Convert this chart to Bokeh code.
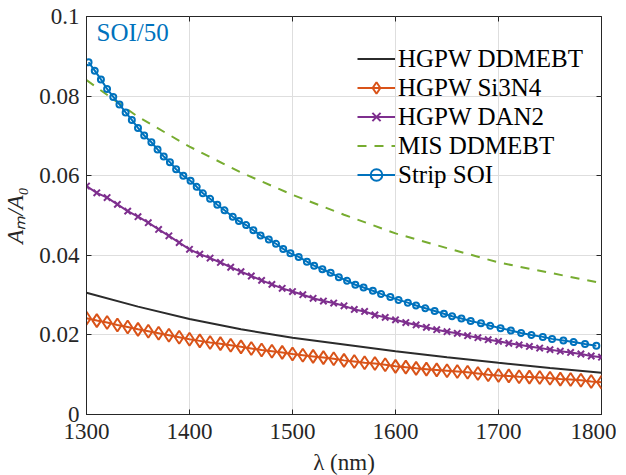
from bokeh.plotting import figure
from bokeh.models import FixedTicker, LinearAxis, Label, Range1d
from bokeh.embed import file_html
from bokeh.resources import INLINE

# ---------------- data ----------------
x_ticks = [1300, 1400, 1500, 1600, 1700, 1800]
x_tick_labels = ["1300", "1400", "1500", "1600", "1700", "1800"]
y_ticks = [0, 0.02, 0.04, 0.06, 0.08, 0.1]
y_tick_labels = ["0", "0.02", "0.04", "0.06", "0.08", "0.1"]

# HGPW DDMEBT (solid line)
wl_ddmebt = [1300, 1350, 1400, 1450, 1500, 1550, 1600, 1650, 1700, 1750, 1800]
hgpw_ddmebt = [0.0306, 0.0271, 0.0240, 0.0214, 0.0193, 0.0176, 0.0159, 0.0144, 0.0130, 0.0117, 0.0105]

# MIS DDMEBT (dashed line)
wl_mis = [1300, 1350, 1400, 1450, 1500, 1550, 1600, 1650, 1700, 1750, 1800]
mis_ddmebt = [0.0840, 0.0748, 0.0673, 0.0608, 0.0552, 0.0502, 0.0455, 0.0418, 0.0382, 0.0356, 0.0330]

# HGPW Si3N4 and HGPW DAN2 (markers every 10 nm)
wl_10 = [1300, 1310, 1320, 1330, 1340, 1350, 1360, 1370, 1380, 1390,
         1400, 1410, 1420, 1430, 1440, 1450, 1460, 1470, 1480, 1490,
         1500, 1510, 1520, 1530, 1540, 1550, 1560, 1570, 1580, 1590,
         1600, 1610, 1620, 1630, 1640, 1650, 1660, 1670, 1680, 1690,
         1700, 1710, 1720, 1730, 1740, 1750, 1760, 1770, 1780, 1790, 1800]
hgpw_si3n4 = [0.0242, 0.0236, 0.0231, 0.0225, 0.0220, 0.0214, 0.0209, 0.0204, 0.0199, 0.0194,
              0.0189, 0.0185, 0.0181, 0.0178, 0.0174, 0.0170, 0.0166, 0.0162, 0.0159, 0.0156,
              0.0152, 0.0149, 0.0146, 0.0143, 0.0140, 0.0136, 0.0133, 0.0130, 0.0128, 0.0125,
              0.0121, 0.0119, 0.0116, 0.0114, 0.0112, 0.0110, 0.0108, 0.0106, 0.0103, 0.0100,
              0.0098, 0.0097, 0.0095, 0.0094, 0.0093, 0.0091, 0.0089, 0.0088, 0.0086, 0.0083, 0.0081]
hgpw_dan2 = [0.0574, 0.0557, 0.0545, 0.0528, 0.0511, 0.0497, 0.0482, 0.0465, 0.0449, 0.0432,
             0.0415, 0.0403, 0.0393, 0.0382, 0.0370, 0.0359, 0.0348, 0.0337, 0.0327, 0.0317,
             0.0309, 0.0301, 0.0292, 0.0285, 0.0280, 0.0273, 0.0264, 0.0259, 0.0250, 0.0244,
             0.0238, 0.0231, 0.0225, 0.0219, 0.0213, 0.0208, 0.0204, 0.0198, 0.0193, 0.0188,
             0.0184, 0.0179, 0.0175, 0.0171, 0.0167, 0.0163, 0.0159, 0.0156, 0.0152, 0.0147, 0.0144]

# Strip SOI (divided by 50), circle markers
wl_soi = [1302, 1308, 1314, 1320, 1326, 1332, 1338, 1344, 1350, 1356,
          1363, 1369, 1375, 1381, 1387, 1394, 1401, 1407, 1413, 1420,
          1427, 1434, 1442, 1448, 1455, 1462, 1469, 1477, 1484, 1491,
          1498, 1506, 1514, 1521, 1529, 1537, 1545, 1553, 1561, 1569,
          1578, 1586, 1595, 1603, 1612, 1620, 1629, 1638, 1647, 1655,
          1664, 1673, 1683, 1692, 1702, 1712, 1722, 1732, 1743, 1752,
          1763, 1773, 1784, 1795]
strip_soi = [0.0885, 0.0864, 0.0842, 0.0818, 0.0798, 0.0779, 0.0759, 0.0740, 0.0720, 0.0701,
             0.0684, 0.0666, 0.0648, 0.0634, 0.0616, 0.0600, 0.0587, 0.0572, 0.0556, 0.0542,
             0.0527, 0.0513, 0.0497, 0.0486, 0.0476, 0.0463, 0.0450, 0.0440, 0.0429, 0.0416,
             0.0405, 0.0396, 0.0384, 0.0374, 0.0365, 0.0356, 0.0345, 0.0336, 0.0326, 0.0319,
             0.0311, 0.0303, 0.0295, 0.0288, 0.0281, 0.0274, 0.0267, 0.0260, 0.0253, 0.0247,
             0.0241, 0.0235, 0.0229, 0.0223, 0.0217, 0.0211, 0.0205, 0.0200, 0.0195, 0.0190,
             0.0186, 0.0182, 0.0177, 0.0173]

# ---------------- styling ----------------
FONT = "'Liberation Serif', serif"
AX = "#262626"
C_BLACK = "#2b2b2b"
C_ORANGE = "#D95319"
C_PURPLE = "#7E2F8E"
C_GREEN = "#77AC30"
C_BLUE = "#0072BD"

p = figure(frame_width=515, frame_height=398,
           x_range=Range1d(1300, 1800), y_range=Range1d(0, 0.1),
           output_backend="svg", toolbar_location=None,
           min_border_left=80, min_border_right=15,
           min_border_top=16, min_border_bottom=52)
p.background_fill_color = "white"
p.border_fill_color = "white"
p.outline_line_color = AX
p.outline_line_width = 1

# grid
p.grid.grid_line_color = "#dedede"
p.grid.grid_line_width = 1
p.xgrid.ticker = FixedTicker(ticks=x_ticks)
p.ygrid.ticker = FixedTicker(ticks=y_ticks)

# bottom / left axes
for ax in (p.xaxis[0], p.yaxis[0]):
    ax.axis_line_color = AX
    ax.major_tick_line_color = AX
    ax.major_tick_in = 5
    ax.major_tick_out = 0
    ax.minor_tick_line_color = None
    ax.major_label_text_font = FONT
    ax.major_label_text_font_size = "23px"
    ax.major_label_text_color = AX
    ax.axis_label_text_font = FONT
    ax.axis_label_text_font_size = "23px"
    ax.axis_label_text_color = AX

p.xaxis[0].ticker = FixedTicker(ticks=x_ticks)
p.xaxis[0].major_label_overrides = {t: s for t, s in zip(x_ticks, x_tick_labels)}
p.xaxis[0].major_label_standoff = 9
p.xaxis[0].axis_label = "λ (nm)"
p.xaxis[0].axis_label_text_font_style = "normal"
p.xaxis[0].axis_label_standoff = 8

p.yaxis[0].ticker = FixedTicker(ticks=y_ticks)
p.yaxis[0].major_label_overrides = {t: s for t, s in zip(y_ticks, y_tick_labels)}
p.yaxis[0].major_label_standoff = 7
p.yaxis[0].axis_label = "Aₘ/A₀"
p.yaxis[0].axis_label_text_font_style = "italic"
p.yaxis[0].axis_label_standoff = 8

# mirrored ticks on top and right (no labels)
top = LinearAxis(ticker=FixedTicker(ticks=x_ticks), major_tick_in=5, major_tick_out=0,
                 minor_tick_line_color=None, axis_line_color=None,
                 major_tick_line_color=AX,
                 major_label_overrides={t: "" for t in x_ticks},
                 major_label_standoff=0)
right = LinearAxis(ticker=FixedTicker(ticks=y_ticks), major_tick_in=5, major_tick_out=0,
                   minor_tick_line_color=None, axis_line_color=None,
                   major_tick_line_color=AX,
                   major_label_overrides={t: "" for t in y_ticks},
                   major_label_standoff=0)
p.add_layout(top, "above")
p.add_layout(right, "right")

# ---------------- series ----------------
p.line(wl_ddmebt, hgpw_ddmebt, line_color=C_BLACK, line_width=2, legend_label="HGPW DDMEBT")

p.line(wl_10, hgpw_si3n4, line_color=C_ORANGE, line_width=2, legend_label="HGPW Si3N4")
p.scatter(wl_10, hgpw_si3n4, marker="diamond", size=13, line_color=C_ORANGE, line_width=2,
          fill_alpha=0, legend_label="HGPW Si3N4")

p.line(wl_10, hgpw_dan2, line_color=C_PURPLE, line_width=2, legend_label="HGPW DAN2")
p.scatter(wl_10, hgpw_dan2, marker="x", size=9, line_color=C_PURPLE, line_width=2,
          legend_label="HGPW DAN2")

p.line(wl_mis, mis_ddmebt, line_color=C_GREEN, line_width=2, line_dash="9 8",
       legend_label="MIS DDMEBT")

p.line(wl_soi, strip_soi, line_color=C_BLUE, line_width=2, legend_label="Strip SOI")
p.scatter(wl_soi, strip_soi, marker="circle", size=6, line_color=C_BLUE, line_width=2,
          fill_alpha=0, legend_label="Strip SOI")

# legend
lg = p.legend[0]
lg.location = (271, 225)
lg.border_line_color = None
lg.background_fill_alpha = 0
lg.padding = 0
lg.margin = 0
lg.spacing = 0
lg.glyph_width = 38
lg.glyph_height = 29
lg.label_height = 29
lg.label_standoff = 3
lg.label_text_font = FONT
lg.label_text_font_size = "25px"
lg.label_text_color = "black"

# annotation
p.add_layout(Label(x=10, y=369, x_units="screen", y_units="screen", text="SOI/50",
                   text_color=C_BLUE, text_font=FONT, text_font_size="25px"))

open("out.html", "w").write(file_html(p, INLINE))
